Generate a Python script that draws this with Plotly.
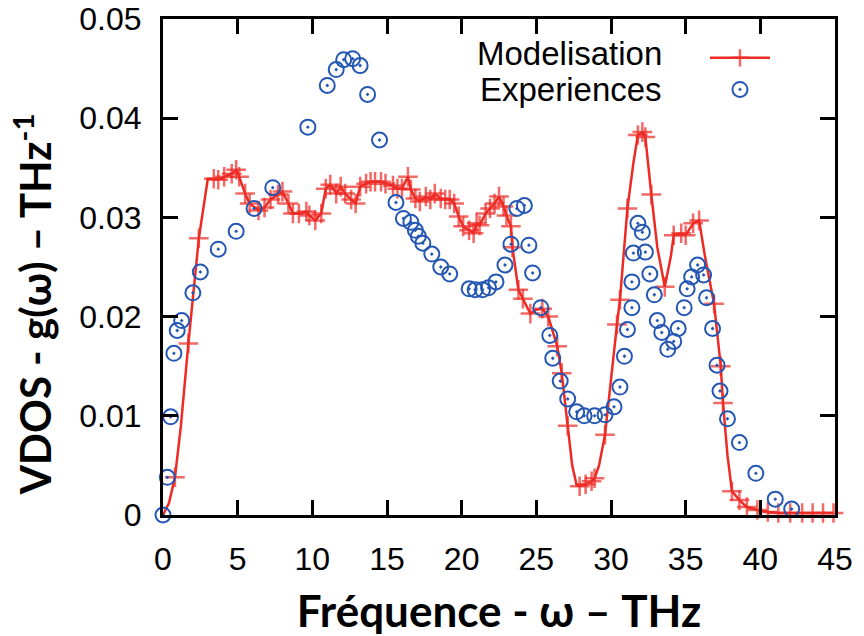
import plotly.graph_objects as go

# Experimental data (blue circles)
exp_x = [0, 0.29, 0.51, 0.73, 0.95, 1.25, 2.0, 2.5, 3.7, 4.9, 6.1, 7.35, 9.7, 11.0, 11.6, 12.1,
         12.7, 13.2, 13.7, 14.5, 15.6, 16.1, 16.6, 16.9, 17.1, 17.4, 18.0, 18.6, 19.2, 20.5,
         20.9, 21.4, 21.8, 22.3, 22.9, 23.3, 23.7, 24.2, 24.5, 24.75, 25.3, 25.9, 26.1, 26.6,
         27.1, 27.7, 28.2, 28.9, 29.6, 30.2, 30.6, 30.9, 31.1, 31.4, 31.4, 31.5, 31.8, 32.1,
         32.3, 32.6, 32.9, 33.1, 33.4, 33.8, 34.2, 34.5, 34.9, 35.1, 35.4, 35.8, 36.2, 36.4,
         36.8, 37.1, 37.3, 37.8, 38.6, 39.7, 41.0, 42.1]
exp_y = [0, 0.0038, 0.0099, 0.0163, 0.0186, 0.0196, 0.0224, 0.0245, 0.0268, 0.0286, 0.0309,
         0.0330, 0.0391, 0.0433, 0.0449, 0.0459, 0.0460, 0.0453, 0.0424, 0.0378, 0.0315,
         0.0299, 0.0295, 0.0287, 0.0281, 0.0274, 0.0263, 0.0250, 0.0243, 0.0228, 0.0227,
         0.0227, 0.0229, 0.0235, 0.0252, 0.0273, 0.0309, 0.0312, 0.0272, 0.0244, 0.0209,
         0.0181, 0.0158, 0.0135, 0.0117, 0.0104, 0.0100, 0.0100, 0.0101, 0.0109, 0.0129,
         0.0160, 0.0187, 0.0209, 0.0235, 0.0264, 0.0294, 0.0285, 0.0265, 0.0243, 0.0222,
         0.0196, 0.0184, 0.0167, 0.0175, 0.0188, 0.0209, 0.0228, 0.0240, 0.0252, 0.0242,
         0.0219, 0.0188, 0.0151, 0.0125, 0.0097, 0.0073, 0.0042, 0.0016, 0.0006]

# Model curve (red line); model_marked = 1 where a "+" is drawn on the curve
model_x = [0, 0.4, 0.8, 1.2, 1.7, 2.4, 3.0, 3.4, 3.7, 4.1, 4.6, 4.9, 5.1, 5.5, 5.8, 6.4, 6.8,
           7.2, 7.7, 8.0, 8.4, 8.7, 9.1, 9.6, 9.8, 10.2, 10.6, 10.9, 11.2, 11.6, 11.9, 12.2,
           12.6, 12.9, 13.2, 13.6, 13.9, 14.2, 14.6, 14.9, 15.4, 15.7, 16.0, 16.4, 16.6, 16.9,
           17.2, 17.6, 17.9, 18.2, 18.6, 18.9, 19.2, 19.5, 19.8, 20.1, 20.5, 20.8, 21.0, 21.2,
           21.6, 21.9, 22.2, 22.5, 22.8, 23.0, 23.3, 23.4, 23.8, 24.1, 24.6, 25.0, 25.4, 25.8,
           26.4, 26.7, 27.1, 27.4, 27.7, 27.9, 28.3, 28.7, 28.9, 29.2, 29.6, 30.0, 30.4, 30.6,
           31.1, 31.5, 31.8, 32.1, 32.3, 32.7, 33.1, 33.6, 34.0, 34.2, 34.7, 35.0, 35.5, 35.9,
           36.3, 36.9, 37.35, 37.5, 37.8, 38.1, 38.6, 39.1, 39.8, 40.5, 41.2, 42.0, 42.8, 43.5,
           44.2, 44.9]
model_y = [0, 0.0012, 0.0038, 0.0090, 0.0173, 0.0279, 0.0339, 0.0339, 0.0338, 0.0341, 0.0344,
           0.0348, 0.0341, 0.0324, 0.0314, 0.0307, 0.0310, 0.0318, 0.0323, 0.0326, 0.0314,
           0.0304, 0.0304, 0.0306, 0.0302, 0.0297, 0.0304, 0.0329, 0.0333, 0.0324, 0.0331,
           0.0324, 0.0318, 0.0314, 0.0331, 0.0334, 0.0336, 0.0336, 0.0336, 0.0334, 0.0332,
           0.0329, 0.0329, 0.0341, 0.0328, 0.0319, 0.0316, 0.0321, 0.0318, 0.0324, 0.0319,
           0.0318, 0.0318, 0.0314, 0.0301, 0.0291, 0.0287, 0.0284, 0.0294, 0.0292, 0.0304,
           0.0309, 0.0314, 0.0321, 0.0311, 0.0302, 0.0291, 0.0270, 0.0227, 0.0218, 0.0203,
           0.0207, 0.0208, 0.0200, 0.0170, 0.0143, 0.0090, 0.0050, 0.0030, 0.0029, 0.0031,
           0.0034, 0.0037, 0.0050, 0.0081, 0.0140, 0.0192, 0.0217, 0.0309, 0.0355, 0.0383,
           0.0386, 0.0381, 0.0323, 0.0270, 0.0230, 0.0260, 0.0282, 0.0284, 0.0282, 0.0294,
           0.0297, 0.0260, 0.0213, 0.0150, 0.0113, 0.0060, 0.0024, 0.0015, 0.0008, 0.0005,
           0.0003, 0.0002, 0.0002, 0.0002, 0.0002, 0.0002, 0.0002]
model_marked = [0, 0, 1, 0, 1, 1, 0, 1, 1, 1, 1, 1, 1, 1, 1, 1, 1,
                1, 1, 1, 1, 1, 1, 1, 1, 1, 1, 1, 1, 1, 1, 1,
                1, 1, 1, 1, 1, 1, 1, 1, 1, 1, 1, 1, 1, 1,
                1, 1, 1, 1, 1, 1, 1, 1, 1, 1, 1, 1, 1, 1,
                1, 1, 1, 1, 1, 1, 1, 1, 1, 1, 1, 0, 1, 1,
                1, 1, 1, 0, 0, 1, 1, 1, 1, 0, 1, 0, 1, 1,
                1, 0, 1, 1, 1, 1, 0, 1, 0, 1, 1, 1, 1, 1,
                0, 1, 1, 1, 0, 1, 1, 1, 1, 1, 1, 1, 1, 1,
                1, 1]

x_ticks = [0, 5, 10, 15, 20, 25, 30, 35, 40, 45]
y_ticks = [0, 0.01, 0.02, 0.03, 0.04, 0.05]
y_tick_labels = ["0", "0.01", "0.02", "0.03", "0.04", "0.05"]
series_names = ["Modelisation", "Experiences"]

RED = "#ee2a24"
BLUE = "#2457b4"
TICK_FONT = "Liberation Sans, Arial, sans-serif"
TITLE_FONT = "Lato, sans-serif"

fig = go.Figure()
fig.add_trace(go.Scatter(
    x=model_x, y=model_y, mode="lines+markers", name=" ",
    line=dict(color=RED, width=2.5),
    marker=dict(symbol="cross-thin", size=[14 if m else 0 for m in model_marked],
                line=dict(color=RED, width=2.5), color=RED),
    cliponaxis=False,
))
fig.add_trace(go.Scatter(
    x=exp_x, y=exp_y, mode="markers", name=" ",
    marker=dict(symbol="circle-open-dot", size=15, color=BLUE,
                line=dict(color=BLUE, width=2)),
    cliponaxis=False,
))

axis_common = dict(
    showgrid=False, zeroline=False, showline=True, linecolor="black", linewidth=3,
    ticks="inside", ticklen=15, tickwidth=3, tickcolor="black", mirror="ticks",
    tickfont=dict(family=TICK_FONT, size=32, color="black"), automargin=False,
)

fig.update_layout(
    width=864, height=636,
    margin=dict(l=163, r=29, t=19, b=121),
    paper_bgcolor="white", plot_bgcolor="white",
    xaxis=dict(range=[0, 45], tickvals=x_ticks, ticktext=[str(v) for v in x_ticks],
               ticklabelstandoff=14,
               title=dict(text="Fréquence - ω – THz", standoff=28,
                          font=dict(family=TITLE_FONT, size=44, color="black", weight="bold")),
               **axis_common),
    yaxis=dict(range=[0, 0.05], tickvals=y_ticks, ticktext=y_tick_labels,
               ticklabelstandoff=12,
               **axis_common),
    showlegend=True,
    legend=dict(x=0.8065, y=0.9637, xanchor="left", yanchor="top",
                bgcolor="rgba(0,0,0,0)", font=dict(size=22), itemwidth=60,
                tracegroupgap=0),
    annotations=[
        dict(text="VDOS - g(ω) – THz<sup>-1</sup>", xref="paper", yref="paper",
             x=-0.1935, y=0.425, xanchor="center", yanchor="middle", textangle=-90,
             showarrow=False,
             font=dict(family=TITLE_FONT, size=42, color="black", weight="bold")),
        dict(text=series_names[0], xref="paper", yref="paper", x=0.746, y=0.931,
             xanchor="right", yanchor="middle", showarrow=False,
             font=dict(family=TICK_FONT, size=33, color="black")),
        dict(text=series_names[1], xref="paper", yref="paper", x=0.746, y=0.857,
             xanchor="right", yanchor="middle", showarrow=False,
             font=dict(family=TICK_FONT, size=33, color="black")),
    ],
)

fig.write_html("out.html")
